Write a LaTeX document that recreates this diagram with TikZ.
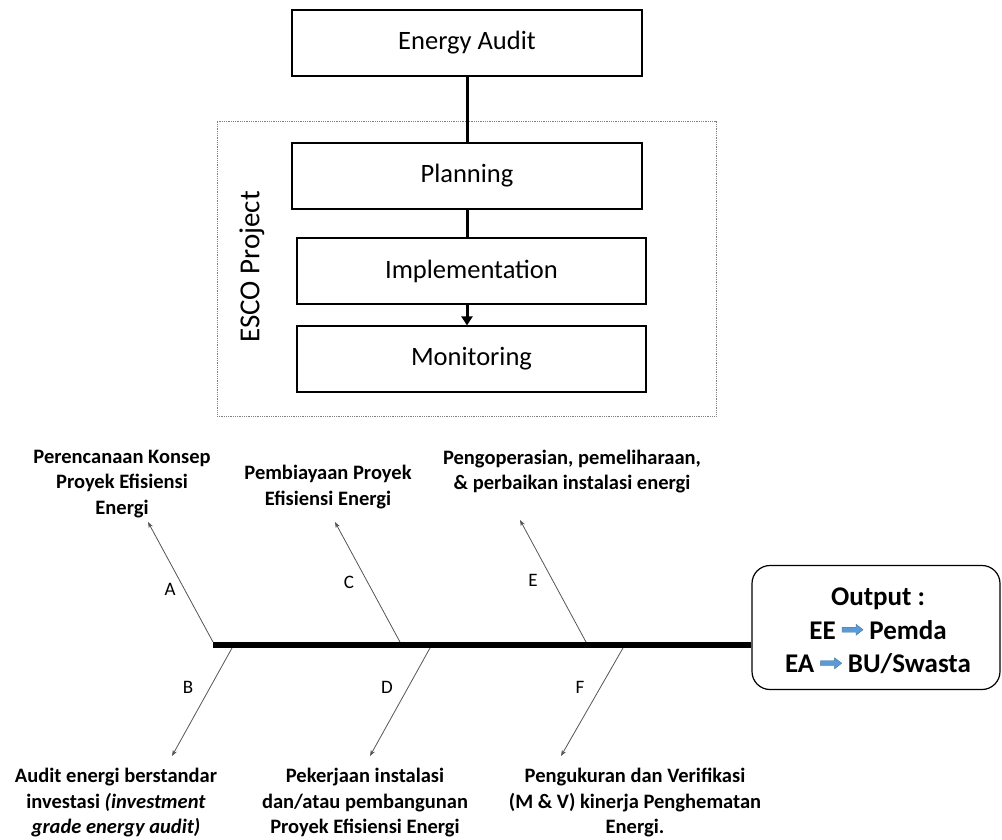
\documentclass[tikz,border=0pt]{standalone}
\usepackage{fontspec}
\setmainfont{Carlito}
\usetikzlibrary{arrows.meta}
\definecolor{arrowblue}{HTML}{5B9BD5}
\definecolor{arrowedge}{HTML}{41719C}
\definecolor{branchgray}{HTML}{555555}
% small block arrow used inside the output box
\newcommand{\blockarrow}{\tikz[baseline=0pt,x=1pt,y=1pt,sharp corners]
  \filldraw[fill=arrowblue,draw=arrowedge,line width=0.4pt,sharp corners]
  (0,12)--(14,12)--(14,15)--(21,9.5)--(14,4)--(14,7)--(0,7)--cycle;}
\begin{document}
\begin{tikzpicture}[x=1pt,y=-1pt,
  stage/.style={draw=black,line width=1.2pt,minimum width=350pt,minimum height=66pt,
    inner sep=0pt,font=\fontsize{26.5}{30}\selectfont},
  link/.style={line width=3pt},
  branch/.style={draw=branchgray,line width=0.8pt,-{Stealth[length=6pt,width=4.5pt]}},
  cause/.style={align=center,font=\bfseries\fontsize{20.5}{25.5}\selectfont},
  tag/.style={font=\fontsize{19}{21}\selectfont}]
\useasboundingbox (0,0) rectangle (1002,839);

% project frame
\node[draw=gray,densely dotted,line width=0.8pt,minimum width=499pt,minimum height=295pt,inner sep=0pt]
  (frame) at (466.5,268.5) {};
\node[rotate=90,font=\fontsize{29}{32}\selectfont] (esco) at (252,267) {ESCO Project};

% stages
\node[stage] (audit) at (467,43) {Energy Audit};
\node[stage] (plan) at (467,176) {Planning};
\node[stage,minimum width=349pt] (impl) at (471.5,271) {Implementation};
\node[stage,minimum width=349pt] (mon) at (471.5,359) {Monitoring};

\draw[link] (audit.south) -- (plan.north);
\draw[link] (plan.south) -- (plan.south |- impl.north);
\draw[link,-{Triangle[length=9pt,width=11pt]}] (impl.south -| plan.south) -- (mon.north -| plan.south);

% output box and spine
\node[draw=black,line width=1.2pt,rounded corners=18pt,minimum width=248pt,minimum height=124pt,
  inner sep=0pt] (out) at (876,627.5) {};
\node[align=center,font=\bfseries\fontsize{27}{33.5}\selectfont] (outtext) at (878,631)
  {Output :\\EE \blockarrow{} Pemda\\EA \blockarrow{} BU/Swasta};
\coordinate (spineL) at (213,645);
\draw[line width=6pt] (spineL) -- (spineL -| out.west);

% branch points on the spine and arrow tips
\coordinate (a0) at (213,642); \coordinate (a1) at (148,522);
\coordinate (c0) at (400,642); \coordinate (c1) at (335,522);
\coordinate (e0) at (586,642); \coordinate (e1) at (520,520);
\coordinate (b0) at (232,648); \coordinate (b1) at (172,756);
\coordinate (d0) at (430,648); \coordinate (d1) at (370,756);
\coordinate (f0) at (623,648); \coordinate (f1) at (561,756);

\draw[branch] (a0) -- (a1);
\draw[branch] (c0) -- (c1);
\draw[branch] (e0) -- (e1);
\draw[branch] (b0) -- (b1);
\draw[branch] (d0) -- (d1);
\draw[branch] (f0) -- (f1);

\node[tag] (la) at (170,589) {A};
\node[tag] (lc) at (349,582) {C};
\node[tag] (le) at (533,580) {E};
\node[tag] (lb) at (188,687) {B};
\node[tag] (ld) at (387,687) {D};
\node[tag] (lf) at (580,687) {F};

% cause descriptions
\node[cause] (ta) at (122,484) {Perencanaan Konsep\\Proyek Efisiensi\\Energi};
\node[cause] (tc) at (328,487) {Pembiayaan Proyek\\Efisiensi Energi};
\node[cause] (te) at (572,471.5) {Pengoperasian, pemeliharaan,\\\& perbaikan instalasi energi};
\node[cause] (tb) at (116,803) {Audit energi berstandar\\investasi \textit{(investment}\\\textit{grade energy audit)}};
\node[cause] (td) at (365,803) {Pekerjaan instalasi\\dan/atau pembangunan\\Proyek Efisiensi Energi};
\node[cause] (tf) at (635,803) {Pengukuran dan Verifikasi\\(M \& V) kinerja Penghematan\\Energi.};
\end{tikzpicture}
\end{document}
